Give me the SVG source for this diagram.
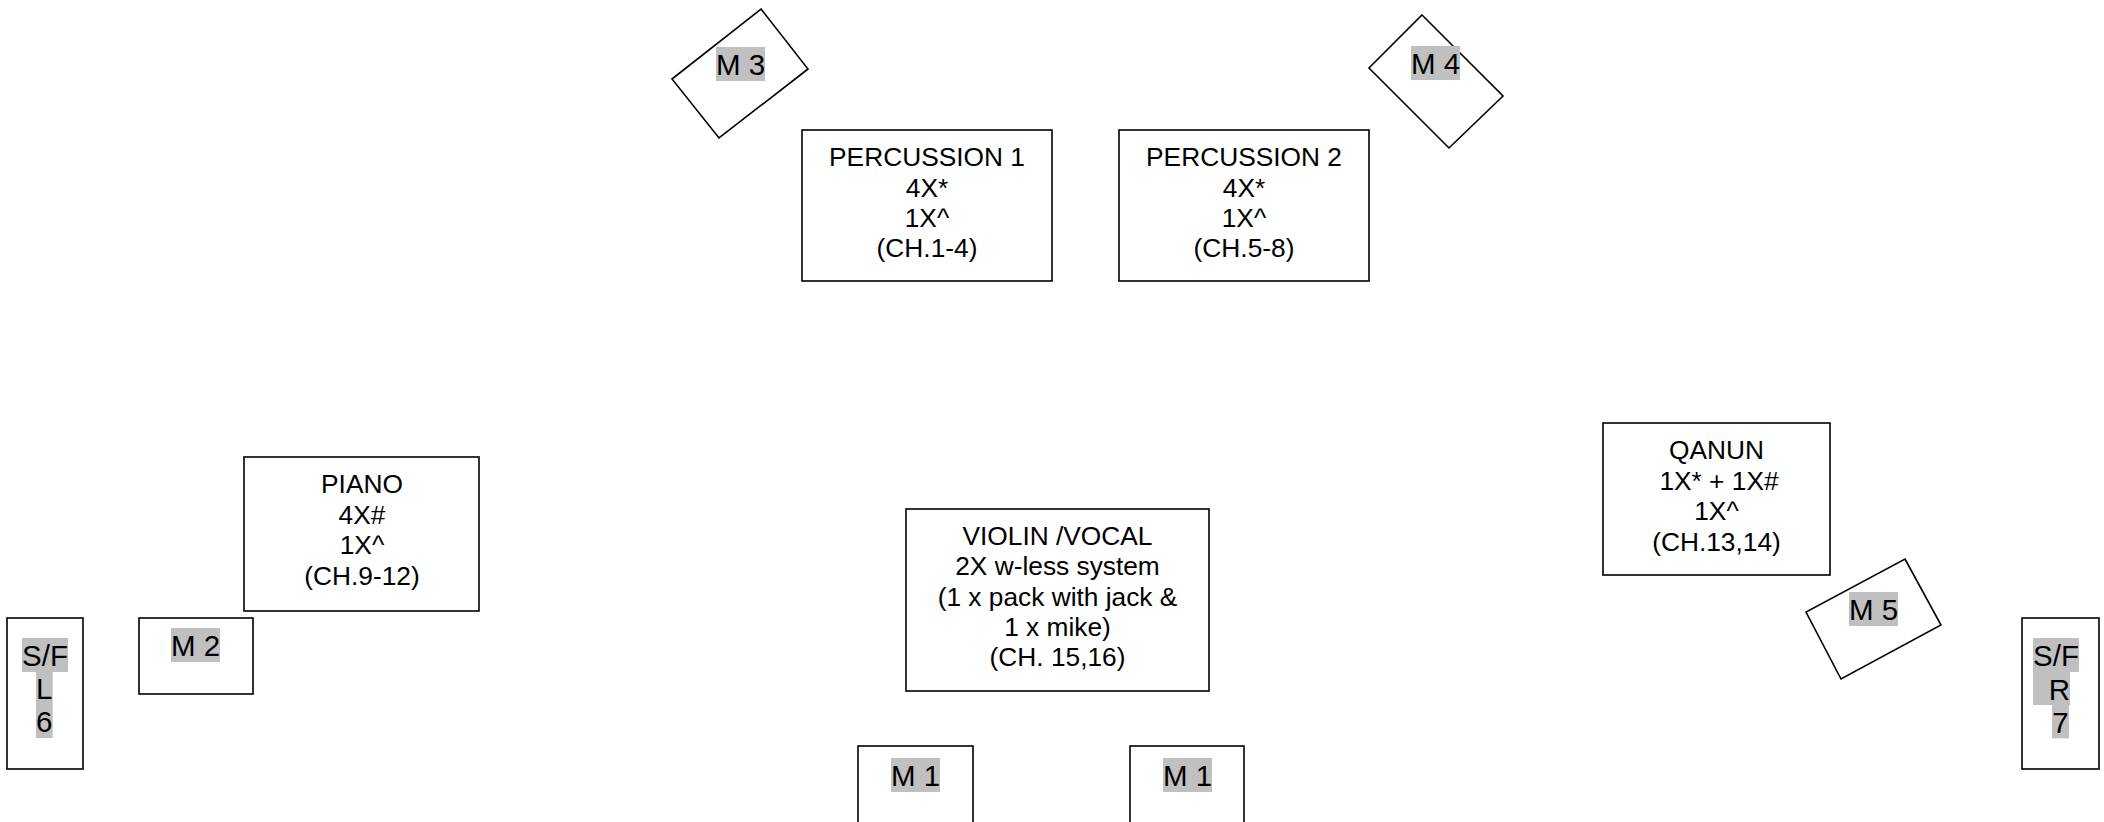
<svg xmlns="http://www.w3.org/2000/svg" width="2104" height="822" viewBox="0 0 2104 822">
<style>
.box{fill:#ffffff;stroke:#000000;stroke-width:1.6}
.hl{fill:#c0c0c0}
.t{font-family:"Liberation Sans",Arial,Helvetica,sans-serif;font-size:26.3px;fill:#000000;text-anchor:middle}
.m{font-family:"Liberation Sans",Arial,Helvetica,sans-serif;font-size:29.5px;fill:#000000;text-anchor:middle}
</style>
<rect x="0" y="0" width="2104" height="822" fill="#ffffff"/>
<g id="connectors"></g>
<g id="m3">
<polygon class="box" points="761,9 808,69 719,138 672,79"/>
<rect class="hl" x="716" y="47" width="49" height="34"/>
<text class="m" x="740.5" y="75">M 3</text>
</g>
<g id="m4">
<polygon class="box" points="1422,15 1503,96 1449,148 1369,68"/>
<rect class="hl" x="1411" y="46" width="49" height="34"/>
<text class="m" x="1435.5" y="74">M 4</text>
</g>
<g id="percussion1">
<rect class="box" x="802" y="130" width="250" height="151"/>
<text class="t" x="927" y="166">PERCUSSION 1</text>
<text class="t" x="927" y="196.5">4X*</text>
<text class="t" x="927" y="226.8">1X^</text>
<text class="t" x="927" y="257">(CH.1-4)</text>
</g>
<g id="percussion2">
<rect class="box" x="1119" y="130" width="250" height="151"/>
<text class="t" x="1244" y="166">PERCUSSION 2</text>
<text class="t" x="1244" y="196.5">4X*</text>
<text class="t" x="1244" y="226.8">1X^</text>
<text class="t" x="1244" y="257">(CH.5-8)</text>
</g>
<g id="piano">
<rect class="box" x="244" y="457" width="235" height="154"/>
<text class="t" x="362" y="493">PIANO</text>
<text class="t" x="362" y="523.5">4X#</text>
<text class="t" x="362" y="554">1X^</text>
<text class="t" x="362" y="584.5">(CH.9-12)</text>
</g>
<g id="violin">
<rect class="box" x="906" y="509" width="303" height="182"/>
<text class="t" x="1057.5" y="545">VIOLIN /VOCAL</text>
<text class="t" x="1057.5" y="575.3">2X w-less system</text>
<text class="t" x="1057.5" y="605.6">(1 x pack with jack &amp;</text>
<text class="t" x="1057.5" y="635.9">1 x mike)</text>
<text class="t" x="1057.5" y="666.2">(CH. 15,16)</text>
</g>
<g id="qanun">
<rect class="box" x="1603" y="423" width="227" height="152"/>
<text class="t" x="1716.5" y="459">QANUN</text>
<text class="t" x="1719" y="489.5">1X* + 1X#</text>
<text class="t" x="1716.5" y="520">1X^</text>
<text class="t" x="1716.5" y="550.5">(CH.13,14)</text>
</g>
<g id="m2">
<rect class="box" x="139" y="618" width="114" height="76"/>
<rect class="hl" x="171" y="628" width="49" height="34"/>
<text class="m" x="195.5" y="655.7">M 2</text>
</g>
<g id="sfl6">
<rect class="box" x="7" y="618" width="76" height="151"/>
<rect class="hl" x="22" y="638" width="46" height="34"/>
<rect class="hl" x="36" y="671.5" width="16.7" height="33"/>
<rect class="hl" x="36" y="704" width="16.7" height="34"/>
<text class="m" x="45" y="665.7">S/F</text>
<text class="m" x="44.3" y="699.4">L</text>
<text class="m" x="44.3" y="732">6</text>
</g>
<g id="m1a">
<rect class="box" x="858" y="746" width="115" height="90"/>
<rect class="hl" x="891" y="758" width="49" height="34"/>
<text class="m" x="915.5" y="785.7">M 1</text>
</g>
<g id="m1b">
<rect class="box" x="1130" y="746" width="114" height="90"/>
<rect class="hl" x="1163" y="758" width="49" height="34"/>
<text class="m" x="1187.5" y="785.7">M 1</text>
</g>
<g id="m5">
<polygon class="box" points="1905,559 1941,625 1841,679 1806,612"/>
<rect class="hl" x="1849" y="592" width="49" height="34"/>
<text class="m" x="1873.5" y="619.7">M 5</text>
</g>
<g id="sfr7">
<rect class="box" x="2022" y="618" width="77" height="151"/>
<rect class="hl" x="2033" y="638" width="46" height="34"/>
<rect class="hl" x="2033" y="671.5" width="37" height="33.5"/>
<rect class="hl" x="2052" y="705" width="17" height="33.3"/>
<text class="m" x="2056" y="666">S/F</text>
<text class="m" x="2059.3" y="699.5">R</text>
<text class="m" x="2060.5" y="732.7">7</text>
</g>
</svg>
